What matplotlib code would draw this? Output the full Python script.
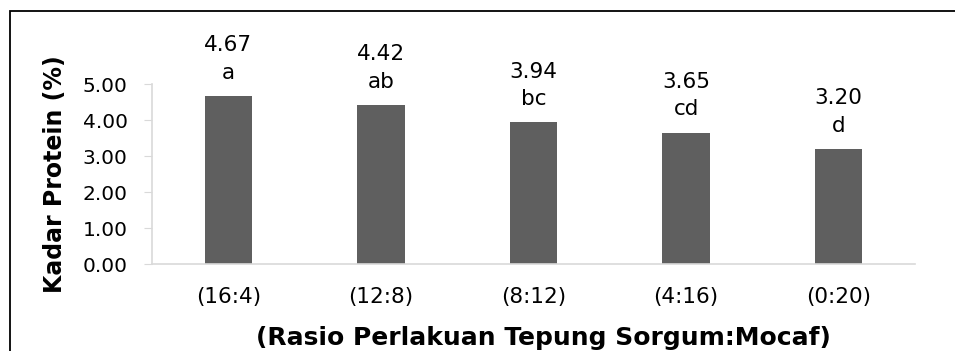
import matplotlib.pyplot as plt
from matplotlib.patches import Rectangle

rasio = ['(16:4)', '(12:8)', '(8:12)', '(4:16)', '(0:20)']
protein = [4.67, 4.42, 3.94, 3.65, 3.20]
notasi = ['a', 'ab', 'bc', 'cd', 'd']

plt.rcParams['font.family'] = 'DejaVu Sans'

fig = plt.figure(figsize=(9.55, 3.51), dpi=100)
W, H = 955, 351
ax = fig.add_axes([152 / W, (H - 264) / H, 763 / W, 180 / H])

x = range(len(rasio))
ax.bar(x, protein, width=0.31, color='#5f5f5f')

for i, (v, n) in enumerate(zip(protein, notasi)):
    ax.annotate(f'{v:.2f}\n{n}', (i, v), xytext=(0, 9.5), textcoords='offset points',
                ha='center', va='bottom', fontsize=15.5, linespacing=1.45)

ax.set_xlim(-0.5, len(rasio) - 0.5)
ax.set_ylim(0, 5)
ax.set_yticks([0, 1, 2, 3, 4, 5])
ax.set_yticklabels([f'{t:.2f}' for t in range(6)])
ax.set_xticks(list(x))
ax.set_xticklabels(rasio)
ax.tick_params(axis='y', labelsize=14.5, length=5.5, color='#d9d9d9', pad=12)
ax.tick_params(axis='x', labelsize=15.5, length=0, pad=16.5)

for s in ['top', 'right']:
    ax.spines[s].set_visible(False)
for s in ['left', 'bottom']:
    ax.spines[s].set_color('#d9d9d9')
    ax.spines[s].set_linewidth(1.2)

ax.set_ylabel('Kadar Protein (%)', fontsize=17, fontweight='bold', labelpad=11)
ax.set_xlabel('(Rasio Perlakuan Tepung Sorgum:Mocaf)', fontsize=18,
              fontweight='bold', labelpad=14)
ax.xaxis.label.set_x(0.513)

# chart frame (only top and left edges fall inside the image)
fig.patches.append(Rectangle((9.5 / W, -0.1), 2, (H - 11) / H + 0.1,
                             transform=fig.transFigure, fill=False,
                             edgecolor='black', linewidth=1.3))

fig.savefig('out.png', dpi=100)
